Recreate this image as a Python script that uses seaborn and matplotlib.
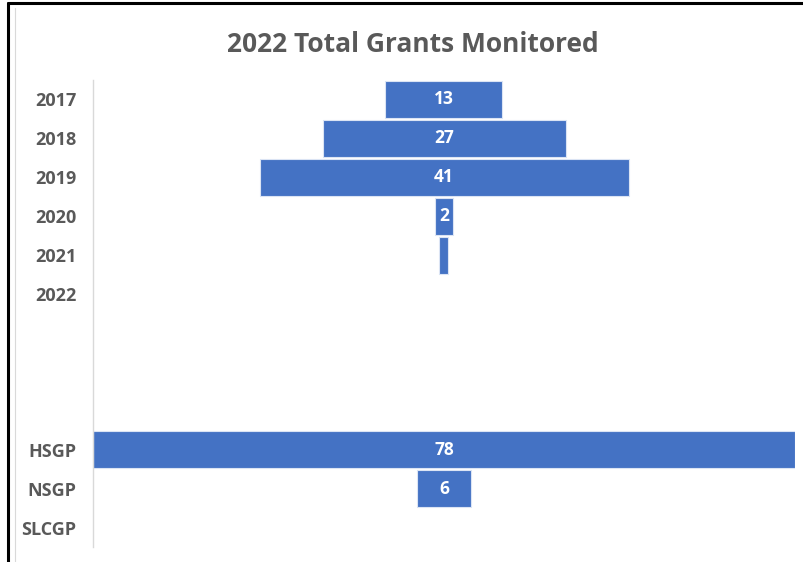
import pandas as pd
import numpy as np
import matplotlib.pyplot as plt
import seaborn as sns
from matplotlib.lines import Line2D

# data (blank rows are the gap between years and programs)
categories = ['2017', '2018', '2019', '2020', '2021', '2022', ' ', '  ', '   ', 'HSGP', 'NSGP', 'SLCGP']
grants = [13, 27, 41, 2, 1, 0, 0, 0, 0, 78, 6, 0]

df = pd.DataFrame({'cat': categories, 'n': grants})

sns.set_style("white")
plt.rcParams['font.family'] = ['Open Sans', 'DejaVu Sans']

fig = plt.figure(figsize=(8.04, 5.62), dpi=100)
ax = fig.add_axes([93 / 804, 1 - 547 / 562, (795 - 93) / 804, (547 - 80) / 562])

sns.barplot(data=df, x='n', y='cat', orient='h', color='#4472C4', saturation=1,
            width=0.95, edgecolor='#dbe4f4', linewidth=0.8, ax=ax)

# funnel: centre every bar on zero
for p, v in zip(ax.patches, grants):
    p.set_x(-v / 2)
    if v == 0:
        p.set_visible(False)
    if v >= 2:
        ax.text(0, p.get_y() + p.get_height() / 2, str(v), ha='center', va='center',
                color='white', fontsize=12.5, fontweight='bold')

ax.set_xlim(-39, 39)
ax.set_ylim(len(categories) - 0.5, -0.5)
ax.set_xlabel('')
ax.set_ylabel('')
ax.set_xticks([])
ax.tick_params(axis='y', length=0, pad=12)
for lab in ax.get_yticklabels():
    lab.set_fontweight('bold')
    lab.set_color('#595959')
    lab.set_fontsize(13)

for s in ['top', 'right', 'bottom']:
    ax.spines[s].set_visible(False)
ax.spines['left'].set_color('#d9d9d9')
ax.spines['left'].set_linewidth(1)

fig.text(413 / 804, 1 - 44 / 562, '2022 Total Grants Monitored', ha='center', va='center',
         fontsize=19, color='#595959', fontweight='bold')

# outer frame seen on the left and top
fig.add_artist(Line2D([8 / 804, 8 / 804], [0, 1 - 3 / 562], color='black', linewidth=2.2))
fig.add_artist(Line2D([8 / 804, 1], [1 - 3 / 562, 1 - 3 / 562], color='black', linewidth=2.2))
fig.add_artist(Line2D([15 / 804, 15 / 804], [0, 1 - 8 / 562], color='#d9d9d9', linewidth=0.8))

fig.savefig('out.png', dpi=100)
